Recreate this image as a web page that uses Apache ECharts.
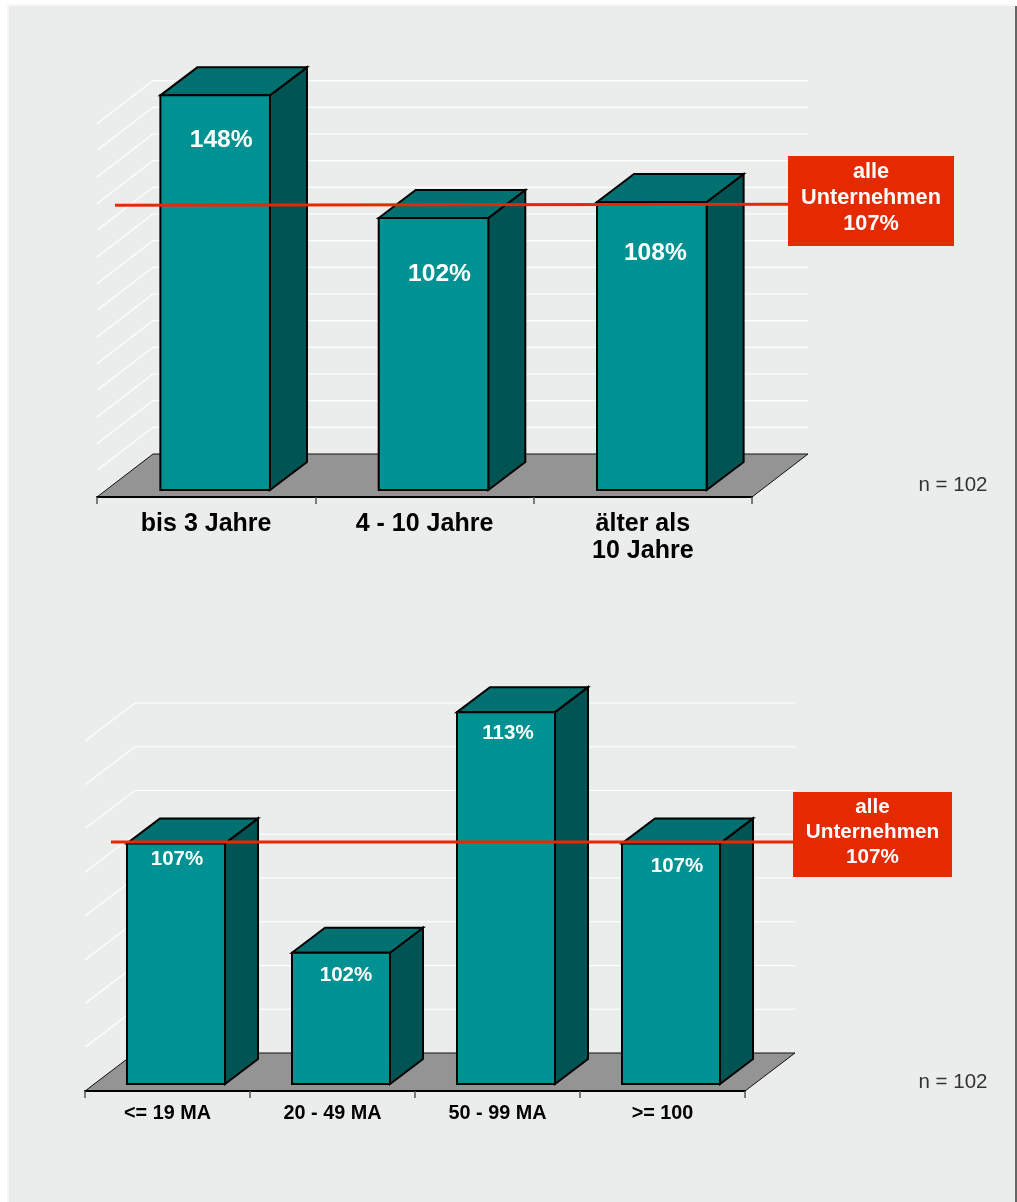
<!DOCTYPE html>
<html>
<head>
<meta charset="utf-8">
<style>html,body{margin:0;padding:0;background:#fff}#c{width:1017px;height:1202px}</style>
<script src="https://cdn.jsdelivr.net/npm/echarts@6/dist/echarts.min.js"></script>
</head>
<body>
<div id="c"></div>
<script>
// ---- data ----
const categoriesAge = ['bis 3 Jahre', '4 - 10 Jahre', 'älter als\n10 Jahre'];
const valuesAge = [148, 102, 108];
const wallTicksAge = [10, 20, 30, 40, 50, 60, 70, 80, 90, 100, 110, 120, 130, 140];
const referenceAge = 107;

const categoriesSize = ['<= 19 MA', '20 - 49 MA', '50 - 99 MA', '>= 100'];
const valuesSize = [107, 102, 113, 107];
const wallTicksSize = [98, 100, 102, 104, 106, 108, 110, 112];
const referenceSize = 107;

const referenceLines = ['alle', 'Unternehmen'];
const sampleNote = 'n = 102';

// ---- styles ----
const FONT = '"Liberation Sans", Arial, sans-serif';
const C = {panel:'#ebedec', edge:'#666666', halo:'#f7f7f7', wall:'#ffffff', floor:'#949494',
           front:'#009292', top:'#007070', side:'#005454', ref:'#e62a00', ink:'#000000'};
const S = [
  {floorDepth:[56,-43], floorLift:7, barShift:9, barFrac:0.502, barDepth:[37,-28], labelSize:24.6,
   labelDx:[6,6,3.5], labelDy:[44.5,56.5,51.5], lineFrom:115, lineTo:788, lineDy:0, lineTilt:1,
   box:[788,156,166,90], boxFont:21.7, boxLine:26, boxTextY:198.5, boxCx:871},
  {floorDepth:[50,-38], floorLift:7, barShift:8.5, barFrac:0.594, barDepth:[33,-25], labelSize:20.5,
   labelDx:[1,5,2,6], labelDy:[16,22.5,21,22.5], lineFrom:111, lineTo:793, lineDy:-1.5, lineTilt:0,
   box:[793,792,159,85], boxFont:20.7, boxLine:25, boxTextY:832.5, boxCx:872.5}
];

function wallItem(s){
  return function(params, api){
    const cs = params.coordSys;
    const y = api.coord([0, api.value(1)])[1] + s.floorLift;
    const x0 = cs.x, x1 = cs.x + cs.width, dx = s.floorDepth[0], dy = s.floorDepth[1];
    const ls = {stroke:C.wall, lineWidth:1.2, fill:null};
    return {type:'group', silent:true, children:[
      {type:'polyline', shape:{points:[[x0,y],[x0+dx,y+dy],[x1+dx,y+dy]]}, style:ls}
    ]};
  };
}
function floorItem(s){
  return function(params){
    const cs = params.coordSys;
    const y = cs.y + cs.height + s.floorLift;
    const x0 = cs.x, x1 = cs.x + cs.width, dx = s.floorDepth[0], dy = s.floorDepth[1];
    return {type:'polygon', silent:true,
      shape:{points:[[x0,y],[x1,y],[x1+dx,y+dy],[x0+dx,y+dy]]},
      style:{fill:C.floor, stroke:'#111', lineWidth:1}};
  };
}
function barItem(s){
  return function(params, api){
    const i = params.dataIndex;
    const top = api.coord([api.value(0), api.value(1)]);
    const base = params.coordSys.y + params.coordSys.height;
    const w = api.size([1,0])[0] * s.barFrac;
    const xl = top[0] + s.barShift - w/2, xr = xl + w;
    const dx = s.barDepth[0], dy = s.barDepth[1];
    const st = f => ({fill:f, stroke:C.ink, lineWidth:2, lineJoin:'miter'});
    return {type:'group', children:[
      {type:'polygon', shape:{points:[[xr,top[1]],[xr+dx,top[1]+dy],[xr+dx,base+dy],[xr,base]]}, style:st(C.side)},
      {type:'polygon', shape:{points:[[xl,top[1]],[xl+dx,top[1]+dy],[xr+dx,top[1]+dy],[xr,top[1]]]}, style:st(C.top)},
      {type:'polygon', shape:{points:[[xl,top[1]],[xr,top[1]],[xr,base],[xl,base]]}, style:st(C.front)},
      {type:'text', style:{text:api.value(1)+'%', x:(xl+xr)/2+s.labelDx[i], y:top[1]+s.labelDy[i],
        fill:'#fff', align:'center', verticalAlign:'middle',
        font:'bold '+s.labelSize+'px '+FONT}}
    ]};
  };
}
function refItem(s){
  return function(params, api){
    const y = api.coord([0, api.value(1)])[1] + s.lineDy;
    const b = s.box;
    return {type:'group', children:[
      {type:'line', shape:{x1:s.lineFrom,y1:y+s.lineTilt/2,x2:s.lineTo,y2:y-s.lineTilt/2}, style:{stroke:C.ref, lineWidth:3}},
      {type:'rect', shape:{x:b[0],y:b[1],width:b[2],height:b[3]}, style:{fill:C.ref}},
      {type:'text', style:{text:referenceLines.concat(api.value(1)+'%').join('\n'),
        x:s.boxCx, y:s.boxTextY, fill:'#fff', align:'center', verticalAlign:'middle',
        lineHeight:s.boxLine, font:'bold '+s.boxFont+'px '+FONT}}
    ]};
  };
}
function seriesFor(ax, s, ticks, vals, ref){
  const common = {type:'custom', xAxisIndex:ax, yAxisIndex:ax, encode:{x:0,y:1}, animation:false};
  return [
    Object.assign({}, common, {name:'wall'+ax, z:1, renderItem:wallItem(s), data:ticks.map(t=>[0,t])}),
    Object.assign({}, common, {name:'floor'+ax, z:2, renderItem:floorItem(s), data:[[0,ticks[0]]]}),
    Object.assign({}, common, {name:'bars'+ax, z:3, renderItem:barItem(s), data:vals.map((v,i)=>[i,v])}),
    Object.assign({}, common, {name:'alle Unternehmen'+ax, z:4, renderItem:refItem(s), data:[[0,ref]]})
  ];
}
function xAxisFor(idx, cats, size, lh, margin){
  return {gridIndex:idx, type:'category', data:cats, position:'bottom', offset:7, z:5,
    axisLine:{show:true, onZero:false, lineStyle:{color:'#000', width:2}},
    axisTick:{show:true, length:7, alignWithLabel:false, lineStyle:{color:'#555', width:1.5}},
    axisLabel:{show:true, interval:0, margin:margin, color:'#000', fontFamily:FONT, fontWeight:'bold',
      fontSize:size, lineHeight:lh, hideOverlap:false},
    splitLine:{show:false}};
}
const chart = echarts.init(document.getElementById('c'), null, {renderer:'canvas', width:1017, height:1202});
chart.setOption({
  animation:false,
  backgroundColor:'#ffffff',
  tooltip:{show:false},
  grid:[
    {left:97, top:116.67, width:655, height:373.33},
    {left:85, top:734, width:660, height:350}
  ],
  xAxis:[ xAxisFor(0, categoriesAge, 25, 27, 14), xAxisFor(1, categoriesSize, 19.8, 24, 11) ],
  yAxis:[
    {gridIndex:0, type:'value', min:0, max:140, interval:10, show:false, splitLine:{show:false}},
    {gridIndex:1, type:'value', min:96, max:112, interval:2, show:false, splitLine:{show:false}}
  ],
  series:[].concat(
    seriesFor(0, S[0], wallTicksAge, valuesAge, referenceAge),
    seriesFor(1, S[1], wallTicksSize, valuesSize, referenceSize)
  ),
  graphic:[
    {type:'rect', z:-3, silent:true, shape:{x:7,y:4,width:1008,height:1198}, style:{fill:C.halo}},
    {type:'rect', z:-2, silent:true, shape:{x:9,y:6,width:1006,height:1196}, style:{fill:C.panel}},
    {type:'rect', z:-1, silent:true, shape:{x:1015,y:6,width:2,height:1196}, style:{fill:C.edge}},
    {type:'text', z:6, silent:true, style:{text:sampleNote, x:953, y:485, align:'center', verticalAlign:'middle', fill:'#333', font:'20.5px '+FONT}},
    {type:'text', z:6, silent:true, style:{text:sampleNote, x:953, y:1082, align:'center', verticalAlign:'middle', fill:'#333', font:'20.5px '+FONT}}
  ]
});
</script>
</body>
</html>
